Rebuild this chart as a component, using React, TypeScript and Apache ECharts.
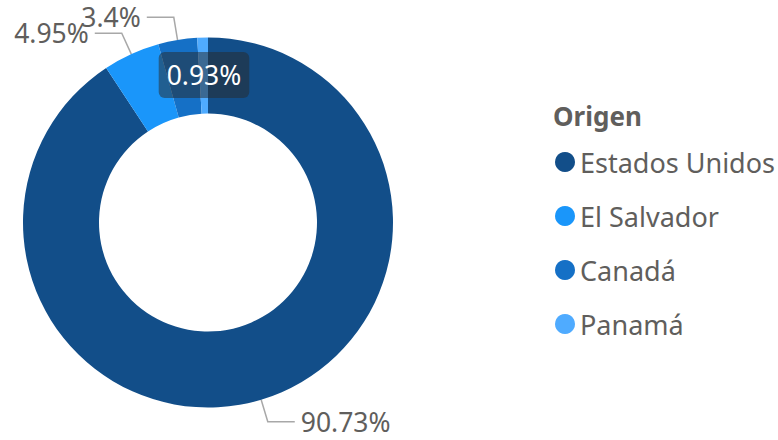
import React, { useEffect, useRef } from "react";
import * as echarts from "echarts";

const categories = ["Estados Unidos", "El Salvador", "Canadá", "Panamá"];
const values = [90.73, 4.95, 3.4, 0.93];
const colors = ["#124E89", "#1A96FA", "#1570C6", "#4FABFF"];
const legendTitle = "Origen";

const FONT = "'Noto Sans', 'Open Sans', sans-serif";
const GRAY = "#605E5C";

export default function App() {
  const ref = useRef<HTMLDivElement>(null);
  useEffect(() => {
    document.body.style.margin = "0";
    if (!ref.current) return;
    const chart = echarts.init(ref.current, undefined, { renderer: "svg" });
    const data = categories.map((name, i) => {
      const item: any = { name, value: values[i], itemStyle: { color: colors[i] } };
      if (i === 3) {
        item.label = {
          color: "#FFFFFF",
          backgroundColor: "rgba(40,40,40,0.5)",
          borderRadius: 6,
          padding: [10, 8, 9, 8],
        };
        item.labelLine = { show: false };
      }
      return item;
    });
    chart.setOption({
      animation: false,
      title: {
        text: legendTitle,
        left: 548,
        top: 98,
        textStyle: { fontFamily: FONT, fontSize: 26, fontWeight: "bold", color: GRAY },
      },
      legend: {
        orient: "vertical",
        left: 550,
        top: 142,
        icon: "circle",
        itemWidth: 20,
        itemHeight: 20,
        itemGap: 24,
        textStyle: { fontFamily: FONT, fontSize: 27, color: GRAY, lineHeight: 30, padding: [0, 0, 0, 0] },
        data: categories,
      },
      series: [
        {
          type: "pie",
          center: [208, 222.5],
          radius: [109, 185],
          startAngle: 90,
          clockwise: true,
          avoidLabelOverlap: false,
          data,
          label: {
            show: true,
            position: "outside",
            formatter: (p: any) => p.value + "%",
            fontFamily: FONT,
            fontSize: 26.5,
            color: GRAY,
            distanceToLabelLine: 6,
          },
          labelLine: {
            show: true,
            length: 23,
            length2: 27,
            lineStyle: { color: "#A8A8A8", width: 1.5 },
          },
          labelLayout: (params: any) => {
            if (params.dataIndex === 3) {
              return { x: 204, y: 75, align: "center", verticalAlign: "middle" };
            }
            return {};
          },
          emphasis: { disabled: true },
        },
      ],
    });
    return () => chart.dispose();
  }, []);
  return <div ref={ref} style={{ width: 778, height: 440 }} />;
}
